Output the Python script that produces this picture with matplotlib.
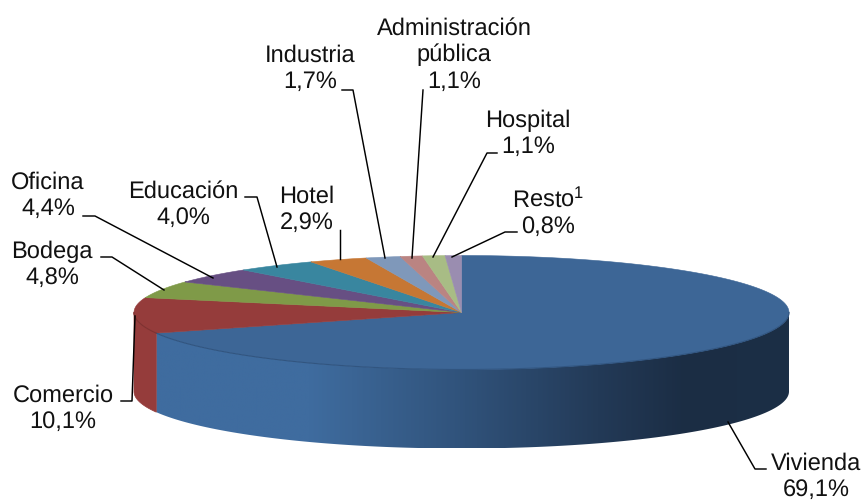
import numpy as np
import matplotlib
matplotlib.use("Agg")
import matplotlib.pyplot as plt
from matplotlib.colors import LinearSegmentedColormap
from matplotlib.patches import Polygon

plt.rcParams["font.family"] = ["Liberation Sans", "DejaVu Sans"]
plt.rcParams["mathtext.default"] = "regular"
plt.rcParams["text.hinting"] = "none"

# data
categories = ["Vivienda", "Comercio", "Bodega", "Oficina", "Educación",
              "Hotel", "Industria", "Administración\npública", "Hospital", "Resto$^{1}$"]
shares = [69.1, 10.1, 4.8, 4.4, 4.0, 2.9, 1.7, 1.1, 1.1, 0.8]
share_labels = ["69,1%", "10,1%", "4,8%", "4,4%", "4,0%", "2,9%", "1,7%", "1,1%", "1,1%", "0,8%"]

colors = ["#3D6696", "#953C3B", "#7F9A48", "#674F83", "#39869F",
          "#C67734", "#7F98BA", "#BA8482", "#A8BC85", "#9A8DB0"]

# pie geometry, in pixels of the picture
cx, cy = 461.5, 312.5
rx, ry = 327.5, 57
depth = 79

label_pos = [(816, 477), (63, 409), (52, 265), (48, 196), (183, 205),
             (307, 210), (310, 69), (454, 55), (528, 134), (548, 212)]
leaders = [
    [(728, 422), (755, 469), (766, 469)],
    [(135, 316), (132, 401), (121, 401)],
    [(164, 290), (112, 257), (101, 257)],
    [(213, 278), (95, 216), (83, 216)],
    [(277, 267), (257, 197), (245, 197)],
    [(340, 259), (340, 230)],
    [(385, 258), (353, 90), (342, 90)],
    [(412, 258), (423, 90)],
    [(433, 257), (487, 153), (497, 153)],
    [(452, 257), (505, 232), (517, 232)],
]


def arc(t0, t1, dy=0):
    t = np.radians(np.linspace(t0, t1, 200))
    return np.column_stack([cx + rx * np.sin(t), cy + dy - ry * np.cos(t)])


fig = plt.figure(figsize=(8.63, 5), dpi=100)
ax = fig.add_axes([0, 0, 1, 1])

edges = np.concatenate([[0], np.cumsum(shares)]) / np.sum(shares) * 360

# side of the pie, only the part facing the viewer
shade = LinearSegmentedColormap.from_list("side", [
    (0.0, "#3F6C9F"), (0.24, "#3F6C9F"), (0.49, "#30527A"),
    (0.70, "#233A57"), (0.84, "#1B2D44"), (1.0, "#1C2F46")])
side = np.vstack([arc(90, edges[1]), arc(edges[1], 90, depth)])
im = ax.imshow(np.linspace(0, 1, 400)[None, :], cmap=shade, aspect="auto",
               extent=[arc(edges[1], edges[1])[0, 0], cx + rx, cy + ry + depth, cy - ry])
im.set_clip_path(Polygon(side, transform=ax.transData))
ax.add_patch(Polygon(np.vstack([arc(edges[1], 270), arc(270, edges[1], depth)]),
                     fc=colors[1], ec=colors[1], lw=0.5))

# top face
for i, c in enumerate(colors):
    pts = np.vstack([[cx, cy], arc(edges[i], edges[i + 1])])
    ax.add_patch(Polygon(pts, fc=c, ec=c, lw=0.4))
front = arc(90, edges[1])
ax.plot(front[:, 0], front[:, 1], color="#315580", lw=0.8)
front = arc(edges[1], 270)
ax.plot(front[:, 0], front[:, 1], color="#7E3231", lw=0.8)

for line in leaders:
    xs, ys = zip(*line)
    ax.plot(xs, ys, color="black", lw=1.05, solid_joinstyle="round")

for name, val, (x, y) in zip(categories, share_labels, label_pos):
    ax.text(x, y, name + "\n" + val, ha="center", va="center", fontsize=17,
            color="#111111", linespacing=1.22)

ax.set_xlim(0, 863)
ax.set_ylim(500, 0)
ax.axis("off")
fig.savefig("out.png", dpi=100)
